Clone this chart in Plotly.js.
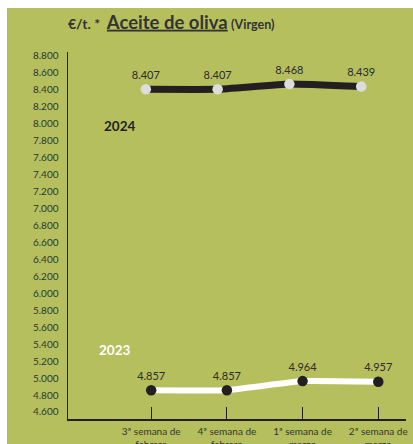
<!DOCTYPE html>
<html>
<head>
<meta charset="utf-8">
<script src="https://cdn.plot.ly/plotly-3.0.1.min.js"></script>
<style>
  html, body { margin: 0; padding: 0; background: #ffffff; }
  #chart { position: absolute; left: 7px; top: 8px; width: 406px; height: 436px; }
</style>
</head>
<body>
<div id="chart"></div>
<script>
const categories = ['3ª semana de<br>febrero', '4ª semana de<br>febrero', '1ª semana de<br>marzo', '2ª semana de<br>marzo'];
const values2024 = [8407, 8407, 8468, 8439];
const values2023 = [4857, 4857, 4964, 4957];
const seriesNames = ['2024', '2023'];

const FONT = 'Lato, "Open Sans", sans-serif';
const OLIVE = '#b5bf5e';
const DARK = '#231f20';

const trace2023 = {
  x: categories, y: values2023, name: seriesNames[1],
  type: 'scatter', mode: 'lines+markers+text',
  line: { color: '#ffffff', width: 6, shape: 'spline', smoothing: 0.3 },
  marker: { color: DARK, size: 10.5 },
  texttemplate: '%{y:,d}', textposition: 'top center',
  textfont: { family: FONT, size: 11, color: '#2b2b2b' },
  cliponaxis: false, hoverinfo: 'skip'
};
const trace2024 = {
  x: categories, y: values2024, name: seriesNames[0],
  xaxis: 'x2',
  type: 'scatter', mode: 'lines+markers+text',
  line: { color: DARK, width: 7, shape: 'spline', smoothing: 0.3 },
  marker: { color: '#dcdcdc', size: 10.5 },
  texttemplate: '%{y:,d}', textposition: 'top center',
  textfont: { family: FONT, size: 11, color: '#2b2b2b' },
  cliponaxis: false, hoverinfo: 'skip'
};

const layout = {
  width: 406, height: 436,
  margin: { l: 61, r: 7, t: 44, b: 25 },
  paper_bgcolor: OLIVE, plot_bgcolor: OLIVE,
  separators: ',.',
  showlegend: false,
  font: { family: FONT, color: '#333333' },
  title: {
    text: '<b><span style="font-size:14px">€/t. *</span></b>  <b><span style="font-size:18.5px"><u>Aceite de oliva</u></span></b> <b><span style="font-size:12.5px">(Virgen)</span></b>',
    font: { family: FONT, size: 13, color: '#333333' },
    xref: 'container', x: 0.150, xanchor: 'left',
    yref: 'container', y: 0.963, yanchor: 'middle'
  },
  xaxis: {
    type: 'category', range: [-1.099, 3.366],
    showgrid: false, zeroline: false,
    showline: true, linecolor: DARK, linewidth: 1.5,
    ticks: 'inside', ticklen: 12, tickwidth: 1.2, tickcolor: DARK,
    tickfont: { family: FONT, size: 10, color: '#333333' },
    ticklabelstandoff: 2
  },
  xaxis2: {
    type: 'category', range: [-1.084, 3.624],
    overlaying: 'x', visible: false, showgrid: false, zeroline: false
  },
  yaxis: {
    range: [4517, 8847], tick0: 4600, dtick: 200,
    tickformat: ',d',
    showgrid: false, zeroline: false,
    showline: true, linecolor: DARK, linewidth: 1.5,
    ticks: '',
    tickfont: { family: FONT, size: 10, color: '#333333' },
    ticklabelstandoff: 6
  },
  annotations: [
    { text: '<b>' + seriesNames[0] + '</b>', xref: 'paper', yref: 'paper', x: 0.151, y: 0.798,
      xanchor: 'center', yanchor: 'middle',
      showarrow: false, font: { family: FONT, size: 13.5, color: DARK } },
    { text: '<b>' + seriesNames[1] + '</b>', xref: 'paper', yref: 'paper', x: 0.139, y: 0.188,
      xanchor: 'center', yanchor: 'middle',
      showarrow: false, font: { family: FONT, size: 13.5, color: '#ffffff' } }
  ]
};

Plotly.newPlot('chart', [trace2024, trace2023], layout, { displayModeBar: false, staticPlot: true });
</script>
</body>
</html>
